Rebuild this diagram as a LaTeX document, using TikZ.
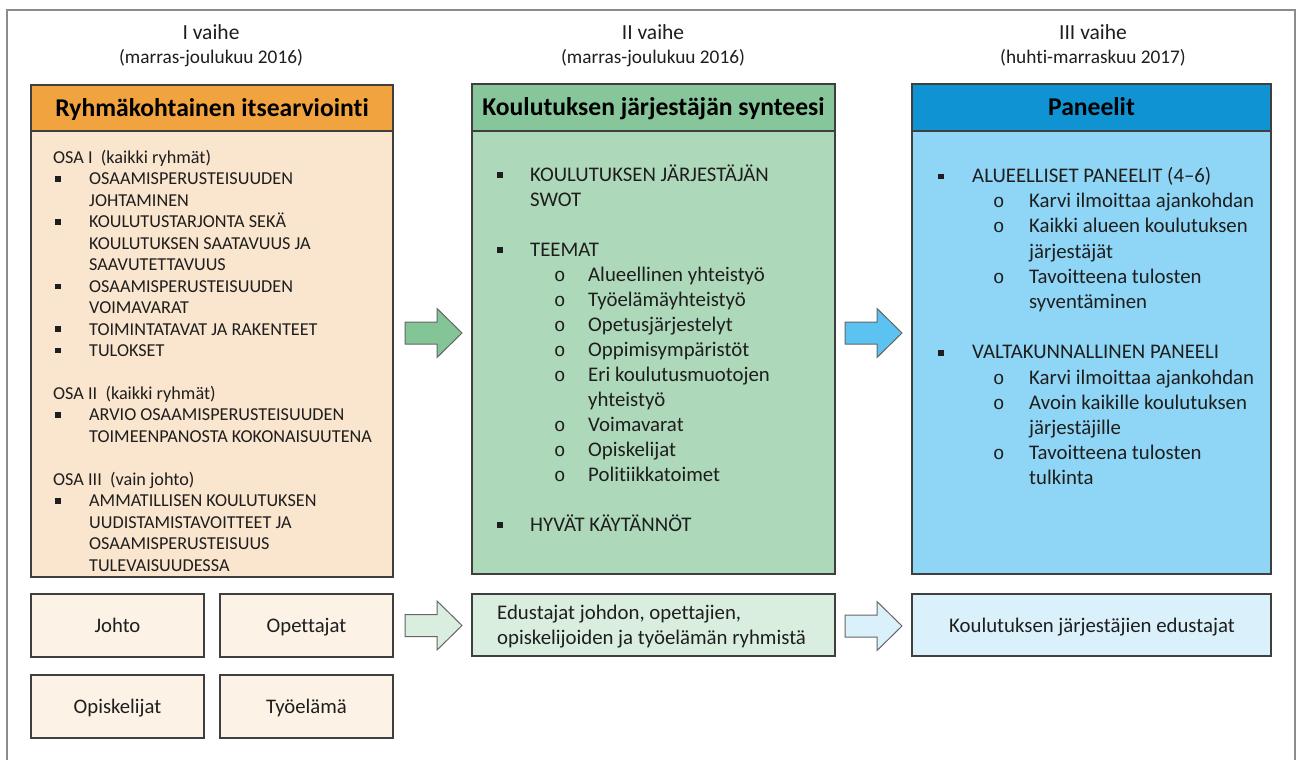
\documentclass[tikz,border=0pt]{standalone}
\usepackage{fontspec}
\setmainfont{Carlito}[Ligatures={NoCommon,NoRare}]
\newfontfamily\ringfont{Liberation Mono}
\usetikzlibrary{calc}
\definecolor{framegray}{HTML}{8C8C8C}
\definecolor{boxline}{HTML}{3F3F3F}
\definecolor{orangehead}{HTML}{F1A33F}
\definecolor{orangebody}{HTML}{FAE5CE}
\definecolor{orangelight}{HTML}{FDF2E6}
\definecolor{greenhead}{HTML}{86C69A}
\definecolor{greenbody}{HTML}{AED8BA}
\definecolor{greenlight}{HTML}{DAEEE0}
\definecolor{greenarrow}{HTML}{84C597}
\definecolor{bluehead}{HTML}{0F93D3}
\definecolor{bluebody}{HTML}{8FD6F6}
\definecolor{bluelight}{HTML}{DAF1FC}
\definecolor{bluearrow}{HTML}{5CC2F2}
\definecolor{txt}{HTML}{1E1E1E}
\newcommand\sqb{\raisebox{3.2pt}{\rule{5.5pt}{5.5pt}}}
\newcommand\rng{{\ringfont\fontsize{19}{19}\selectfont o}}
\newcommand\bul[3]{\makebox[#1][l]{#2}#3}
\newcommand\blockarrow[2]{%
  \draw[arrowline, fill=#2] ($(#1)+(0,-11)$) -- ++(32,0) -- ++(0,-13.5) -- ++(25,24.5)
    -- ++(-25,24.5) -- ++(0,-13.5) -- ++(-32,0) -- cycle;}
\tikzset{
  boxrect/.style={draw=boxline, line width=1.3pt, inner sep=0pt, outer sep=0pt, anchor=north west},
  headrect/.style={boxrect, font=\fontsize{25.6}{29}\selectfont\bfseries, text=black,
     text height=16.4pt, text depth=0pt},
  smallrect/.style={boxrect, fill=orangelight, font=\fontsize{20.7}{25}\selectfont, text=txt,
     text height=13.3pt, text depth=0pt},
  arrowline/.style={draw=boxline!80, line width=1pt, line join=miter},
  frameline/.style={draw=framegray, line width=2pt},
  lefttext/.style={anchor=base west, inner sep=0pt, text=txt, font=\fontsize{18.2}{21}\selectfont},
  bodytext/.style={anchor=base west, inner sep=0pt, text=txt, font=\fontsize{20.8}{25}\selectfont},
  phasetext/.style={anchor=base, inner sep=0pt, text=txt, font=\fontsize{21.5}{25}\selectfont},
  datetext/.style={anchor=base, inner sep=0pt, text=txt, font=\fontsize{19.3}{22}\selectfont},
}
\begin{document}
\begin{tikzpicture}[x=1pt, y=-1pt]
\useasboundingbox (0,0) rectangle (1299,760);
\fill[white] (0,0) rectangle (1299,760);
\draw[frameline] (7,765) -- (7,10) -- (1295,10) -- (1295,765);

% phase headers
\node[phasetext] (p1) at (211,40) {I vaihe};
\node[datetext] (d1) at (211,64) {(marras-joulukuu 2016)};
\node[phasetext] (p2) at (653,40) {II vaihe};
\node[datetext] (d2) at (653,64) {(marras-joulukuu 2016)};
\node[phasetext] (p3) at (1093,40) {III vaihe};
\node[datetext] (d3) at (1093,64) {(huhti-marraskuu 2017)};

% main boxes
\node[boxrect, fill=orangebody, minimum width=362pt, minimum height=492pt] (L) at (31,85) {};
\node[headrect, fill=orangehead, minimum width=362pt, minimum height=46pt] (Lh) at (31,85) {Ryhmäkohtainen itsearviointi};
\node[boxrect, fill=greenbody, minimum width=363pt, minimum height=490pt] (G) at (472,84) {};
\node[headrect, fill=greenhead, minimum width=363pt, minimum height=47pt] (Gh) at (472,84) {Koulutuksen järjestäjän synteesi};
\node[boxrect, fill=bluebody, minimum width=359pt, minimum height=490pt] (B) at (912,84) {};
\node[headrect, fill=bluehead, minimum width=359pt, minimum height=47pt] (Bh) at (912,84) {Paneelit};

% lower boxes
\node[smallrect, minimum width=173pt, minimum height=63pt] (s1) at (31,594) {Johto};
\node[smallrect, minimum width=173pt, minimum height=63pt] (s2) at (220,594) {Opettajat};
\node[smallrect, minimum width=173pt, minimum height=63pt] (s3) at (31,675) {Opiskelijat};
\node[smallrect, minimum width=173pt, minimum height=63pt] (s4) at (220,675) {Työelämä};
\node[boxrect, fill=greenlight, minimum width=363pt, minimum height=62pt] (g2) at (472,594) {};
\node[bodytext] (g2a) at (497,619) {Edustajat johdon, opettajien,};
\node[bodytext] (g2b) at (497,644) {opiskelijoiden ja työelämän ryhmistä};
\node[boxrect, fill=bluelight, minimum width=359pt, minimum height=62pt] (b2) at (912,594) {};
\node[bodytext, anchor=base] (b2a) at (1092,632) {Koulutuksen järjestäjien edustajat};

% left box text
\foreach \x/\k/\t [count=\i] in {
  53/0/{OSA I\ \ (kaikki ryhmät)},
  55/1/{\bul{34pt}{\sqb}{OSAAMISPERUSTEISUUDEN}},
  89/2/{JOHTAMINEN},
  55/3/{\bul{34pt}{\sqb}{KOULUTUSTARJONTA SEKÄ}},
  89/4/{KOULUTUKSEN SAATAVUUS JA},
  89/5/{SAAVUTETTAVUUS},
  55/6/{\bul{34pt}{\sqb}{OSAAMISPERUSTEISUUDEN}},
  89/7/{VOIMAVARAT},
  55/8/{\bul{34pt}{\sqb}{TOIMINTATAVAT JA RAKENTEET}},
  55/9/{\bul{34pt}{\sqb}{TULOKSET}},
  53/11/{OSA II\ \ (kaikki ryhmät)},
  55/12/{\bul{34pt}{\sqb}{ARVIO OSAAMISPERUSTEISUUDEN}},
  89/13/{TOIMEENPANOSTA KOKONAISUUTENA},
  53/15/{OSA III\ \ (vain johto)},
  55/16/{\bul{34pt}{\sqb}{AMMATILLISEN KOULUTUKSEN}},
  89/17/{UUDISTAMISTAVOITTEET JA},
  89/18/{OSAAMISPERUSTEISUUS},
  89/19/{TULEVAISUUDESSA}}
  {\node[lefttext] (l\i) at (\x,163.5+21.45*\k) {\t};}

% green box text
\foreach \x/\k/\t [count=\i] in {
  497/0/{\bul{33pt}{\sqb}{KOULUTUKSEN JÄRJESTÄJÄN}},
  530/1/{SWOT},
  497/3/{\bul{33pt}{\sqb}{TEEMAT}},
  554/4/{\bul{34pt}{\rng}{Alueellinen yhteistyö}},
  554/5/{\bul{34pt}{\rng}{Työelämäyhteistyö}},
  554/6/{\bul{34pt}{\rng}{Opetusjärjestelyt}},
  554/7/{\bul{34pt}{\rng}{Oppimisympäristöt}},
  554/8/{\bul{34pt}{\rng}{Eri koulutusmuotojen}},
  588/9/{yhteistyö},
  554/10/{\bul{34pt}{\rng}{Voimavarat}},
  554/11/{\bul{34pt}{\rng}{Opiskelijat}},
  554/12/{\bul{34pt}{\rng}{Politiikkatoimet}},
  497/14/{\bul{33pt}{\sqb}{HYVÄT KÄYTÄNNÖT}}}
  {\node[bodytext] (gt\i) at (\x,181+25*\k) {\t};}

% blue box text
\foreach \x/\k/\t [count=\i] in {
  938/0/{\bul{34pt}{\sqb}{ALUEELLISET PANEELIT (4–6)}},
  993/1/{\bul{36pt}{\rng}{Karvi ilmoittaa ajankohdan}},
  993/2/{\bul{36pt}{\rng}{Kaikki alueen koulutuksen}},
  1029/3/{järjestäjät},
  993/4/{\bul{36pt}{\rng}{Tavoitteena tulosten}},
  1029/5/{syventäminen},
  938/7/{\bul{34pt}{\sqb}{VALTAKUNNALLINEN PANEELI}},
  993/8/{\bul{36pt}{\rng}{Karvi ilmoittaa ajankohdan}},
  993/9/{\bul{36pt}{\rng}{Avoin kaikille koulutuksen}},
  1029/10/{järjestäjille},
  993/11/{\bul{36pt}{\rng}{Tavoitteena tulosten}},
  1029/12/{tulkinta}}
  {\node[bodytext] (bt\i) at (\x,182.5+25.2*\k) {\t};}

% block arrows
\coordinate (a1) at (405,333);
\coordinate (a2) at (845,333);
\coordinate (a3) at (405,625.5);
\coordinate (a4) at (845,626);
\blockarrow{a1}{greenarrow}
\blockarrow{a2}{bluearrow}
\blockarrow{a3}{greenlight}
\blockarrow{a4}{bluelight}
\end{tikzpicture}
\end{document}
